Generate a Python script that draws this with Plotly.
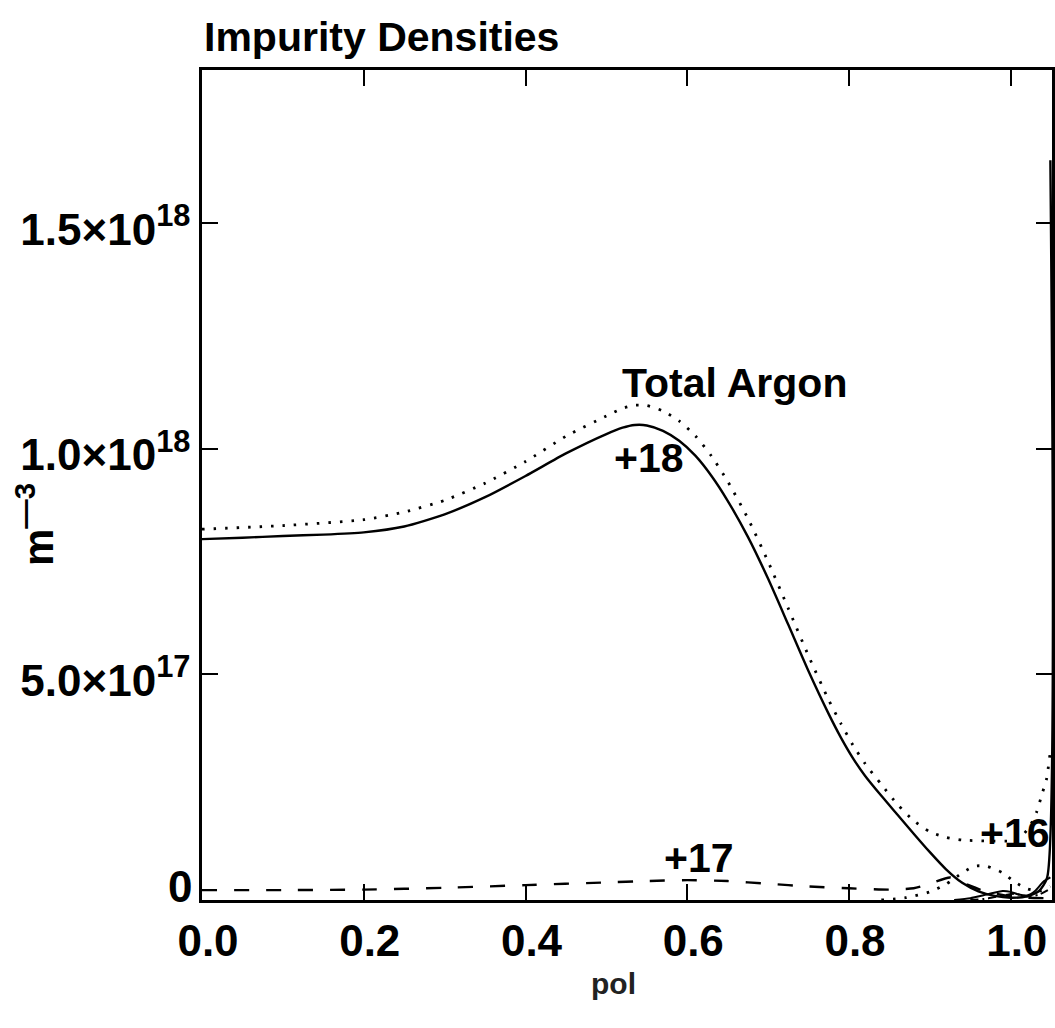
import plotly.graph_objects as go

# Radial coordinate (normalised poloidal flux) and argon charge-state densities [1e18 m^-3]
x_ar18 = [0.0, 0.05, 0.1, 0.15, 0.2, 0.25, 0.3, 0.35, 0.4, 0.45, 0.5, 0.52, 0.535,
          0.55, 0.57, 0.59, 0.61, 0.63, 0.65, 0.675, 0.7, 0.725, 0.75, 0.775, 0.79,
          0.805, 0.82, 0.84, 0.86, 0.88, 0.9, 0.92, 0.94, 0.96, 0.98, 1.0, 1.02, 1.035,
          1.045, 1.049]
n_ar18 = [0.800, 0.803, 0.807, 0.810, 0.815, 0.828, 0.855, 0.893, 0.940, 0.990, 1.033,
          1.047, 1.053, 1.052, 1.040, 1.018, 0.985, 0.940, 0.885, 0.805, 0.712, 0.610,
          0.507, 0.412, 0.360, 0.314, 0.275, 0.231, 0.189, 0.147, 0.106, 0.068, 0.038,
          0.019, 0.009, 0.005, 0.008, 0.020, 0.050, 1.640]

x_ar17 = [0.0, 0.1, 0.2, 0.3, 0.4, 0.5, 0.55, 0.6, 0.65, 0.7, 0.75, 0.8, 0.85, 0.88,
          0.9, 0.925, 0.945, 0.97, 1.0, 1.02, 1.049]
n_ar17 = [0.022, 0.022, 0.023, 0.027, 0.033, 0.039, 0.042, 0.044, 0.042, 0.036, 0.030,
          0.026, 0.023, 0.026, 0.036, 0.050, 0.035, 0.018, 0.008, 0.005, 0.004]

x_ar16 = [0.84, 0.87, 0.9, 0.92, 0.94, 0.955, 0.97, 0.99, 1.005, 1.02, 1.035, 1.049]
n_ar16 = [0.000, 0.005, 0.018, 0.035, 0.060, 0.075, 0.075, 0.060, 0.040, 0.025, 0.020, 0.030]

x_ar15 = [0.93, 0.95, 0.97, 0.99, 1.0, 1.01, 1.02, 1.03, 1.04, 1.049]
n_ar15 = [0.000, 0.004, 0.012, 0.020, 0.018, 0.012, 0.010, 0.020, 0.040, 0.050]

x_ar14 = [0.95, 0.97, 0.99, 1.005, 1.02, 1.035, 1.049]
n_ar14 = [0.000, 0.003, 0.010, 0.014, 0.008, 0.012, 0.025]

x_tot = [0.0, 0.1, 0.2, 0.25, 0.3, 0.35, 0.4, 0.45, 0.5, 0.52, 0.535, 0.55, 0.57,
         0.59, 0.61, 0.63, 0.65, 0.675, 0.7, 0.725, 0.75, 0.775, 0.79, 0.805, 0.82,
         0.84, 0.86, 0.88, 0.9, 0.92, 0.94, 0.97, 1.0, 1.011, 1.023, 1.032, 1.039,
         1.044, 1.049]
n_tot = [0.822, 0.830, 0.843, 0.860, 0.886, 0.924, 0.972, 1.028, 1.073, 1.090, 1.097,
         1.096, 1.084, 1.062, 1.029, 0.984, 0.928, 0.846, 0.750, 0.646, 0.541, 0.443,
         0.391, 0.343, 0.302, 0.256, 0.212, 0.176, 0.151, 0.139, 0.133, 0.131, 0.131,
         0.137, 0.162, 0.195, 0.237, 0.266, 0.330]

y_tick_vals = [0.0, 0.5, 1.0, 1.5]
y_tick_text = ["", "5.0\u00d710<sup>17</sup>", "1.0\u00d710<sup>18</sup>",
               "1.5\u00d710<sup>18</sup>"]
x_tick_vals = [0.0, 0.2, 0.4, 0.6, 0.8, 1.0]
x_tick_text = ["0.0", "0.2", "0.4", "0.6", "0.8", "1.0"]

SCALE = 1e18
FONT = "Liberation Sans Narrow, Liberation Sans, Arial, sans-serif"
DOTS = "2.5px,9px"


def scaled(vals):
    return [v * SCALE for v in vals]


fig = go.Figure()
fig.add_trace(go.Scatter(x=x_tot, y=scaled(n_tot), mode="lines",
                         line=dict(color="black", width=2.8, dash=DOTS,
                                   shape="spline", smoothing=0.6),
                         name="Total Argon"))
fig.add_trace(go.Scatter(x=x_ar18, y=scaled(n_ar18), mode="lines",
                         line=dict(color="black", width=2.4, shape="spline",
                                   smoothing=0.6), name="+18"))
fig.add_trace(go.Scatter(x=x_ar17, y=scaled(n_ar17), mode="lines",
                         line=dict(color="black", width=2.4, dash="15px,17px",
                                   shape="spline", smoothing=0.6), name="+17"))
fig.add_trace(go.Scatter(x=x_ar16, y=scaled(n_ar16), mode="lines",
                         line=dict(color="black", width=2.8, dash=DOTS,
                                   shape="spline", smoothing=0.6), name="+16"))
fig.add_trace(go.Scatter(x=x_ar15, y=scaled(n_ar15), mode="lines",
                         line=dict(color="black", width=2, shape="spline",
                                   smoothing=0.6), name="+15"))
fig.add_trace(go.Scatter(x=x_ar14, y=scaled(n_ar14), mode="lines",
                         line=dict(color="black", width=2, dash="8px,4px,2px,4px",
                                   shape="spline", smoothing=0.6), name="+14"))

label_font = dict(family=FONT, size=41, color="black", weight="bold")
tick_font = dict(family=FONT, size=44, color="black", weight="bold")
for txt, lx, ly in [("Total Argon", 0.659, 1.146), ("+18", 0.553, 0.980),
                    ("+17", 0.615, 0.093), ("+16", 1.005, 0.149)]:
    fig.add_annotation(x=lx, y=ly * SCALE, text=txt, showarrow=False,
                       font=label_font, xanchor="center", yanchor="middle")

# Zero label of the density axis sits a little above its tick
fig.add_annotation(x=0, y=0, xref="paper", yref="y", xanchor="right",
                   yanchor="middle", xshift=-8, yshift=14, text="0",
                   showarrow=False, font=tick_font)

# Plot title and axis titles placed around the frame
fig.add_annotation(x=0, y=1, xref="paper", yref="paper", xanchor="left",
                   yanchor="bottom", yshift=8, text="Impurity Densities",
                   showarrow=False, font=label_font)
fig.add_annotation(x=(613 - 202) / 850, y=0, xref="paper", yref="paper",
                   xanchor="center", yanchor="middle", yshift=-83, text="pol",
                   showarrow=False,
                   font=dict(family=FONT, size=30, color="#222", weight="bold"))
fig.add_annotation(x=0, y=(900 - 525) / 830, xref="paper", yref="paper",
                   xanchor="center", yanchor="middle", xshift=-167,
                   text="m<sup>\u20143</sup>", textangle=-90, showarrow=False,
                   font=dict(family=FONT, size=42, color="black", weight="bold"))

axis_common = dict(showgrid=False, zeroline=False, showline=True, linecolor="black",
                   linewidth=2.5, mirror="ticks", ticks="inside", ticklen=16,
                   tickwidth=2, tickcolor="black", automargin=False)

fig.update_xaxes(range=[0, 1.051], tickvals=x_tick_vals, ticktext=x_tick_text,
                 tickfont=tick_font, ticklabelshift=6, **axis_common)
fig.update_yaxes(range=[0, 1.84 * SCALE], tickvals=scaled(y_tick_vals),
                 ticktext=y_tick_text, tickfont=tick_font, ticklabelshift=6,
                 **axis_common)

fig.update_layout(width=1055, height=1028, showlegend=False,
                  plot_bgcolor="white", paper_bgcolor="white",
                  margin=dict(l=202, r=3, t=70, b=128))

fig.write_html("out.html")
